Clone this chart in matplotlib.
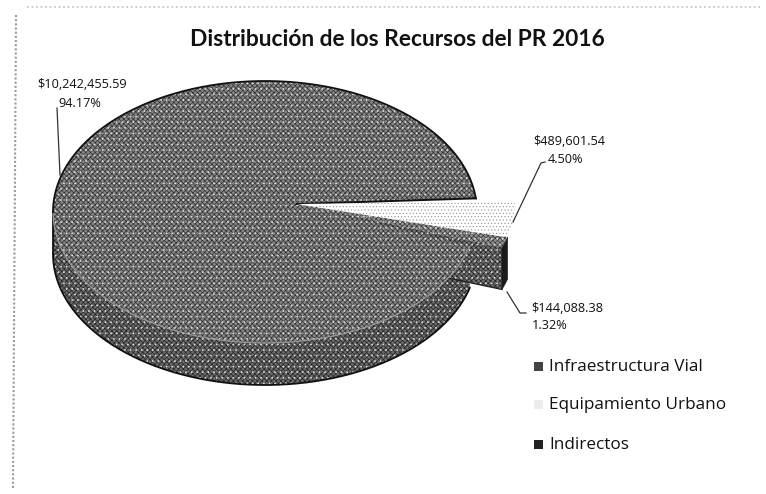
import numpy as np
import matplotlib
matplotlib.use('Agg')
import matplotlib.pyplot as plt
from matplotlib.patches import Polygon, Rectangle

# Datos
categorias = ['Infraestructura Vial', 'Equipamiento Urbano', 'Indirectos']
montos = [10242455.59, 489601.54, 144088.38]
titulo = 'Distribución de los Recursos del PR 2016'

total = sum(montos)
barrido = [m / total * 360 for m in montos]

plt.rcParams['font.family'] = 'Open Sans'
plt.rcParams['hatch.linewidth'] = 0.45

fig = plt.figure(figsize=(7.66, 4.94), dpi=100)
ax = fig.add_axes([0, 0, 1, 1])
ax.set_xlim(0, 766)
ax.set_ylim(494, 0)
ax.axis('off')

# Geometria del pastel en 3D (pixeles de la imagen)
centro = (265, 212)
vertice = (297, 204)
rx, ry = 212, 131
rx2, ry2 = 218, 127
prof = 42
inicio_main = 15
inicio_equip = -1


def arco(c, a, b, t0, t1):
    t = np.radians(np.linspace(t0, t1, 200))
    return np.column_stack([c[0] + a * np.cos(t), c[1] + b * np.sin(t)])


def cara_lateral(c, a, b, t0, t1, h):
    p = arco(c, a, b, t0, t1)
    return np.vstack([p, p[::-1] + [0, h]])


def relleno(puntos, cara, trama, z):
    # gris con trama oscura y puntos claros, como el medio tono del escaneo
    ax.add_patch(Polygon(puntos, closed=True, facecolor=cara, edgecolor=trama,
                         hatch='xxxxxxx', lw=0, zorder=z))
    ax.add_patch(Polygon(puntos, closed=True, fill=False, edgecolor='#e6e6e6',
                         hatch='...', lw=0, zorder=z))


# angulos a partir de los montos
t_main = inicio_main + barrido[0]
t_equip = inicio_equip + barrido[1]
t_indir = t_equip + barrido[2]

# lateral de Infraestructura
relleno(cara_lateral(centro, rx, ry, inicio_main, 180, prof), '#6a6a6a', '#222222', 1)
borde = arco(centro, rx, ry, inicio_main, 180) + [0, prof]
ax.plot(borde[:, 0], borde[:, 1], color='#111111', lw=1.3, zorder=1)
ax.plot([centro[0] - rx] * 2, [centro[1], centro[1] + prof], color='#111111', lw=1.3, zorder=1)

# Indirectos: cara de corte y cara exterior
p_ini = arco(vertice, rx2, ry2, t_equip, t_indir)
cara = np.array([vertice, p_ini[-1], p_ini[-1] + [0, prof], [vertice[0], vertice[1] + prof]])
relleno(cara, '#6f6f6f', '#222222', 2)
ax.plot([vertice[0], p_ini[-1][0]], [vertice[1] + prof, p_ini[-1][1] + prof], color='#222222', lw=1, zorder=2)
ext = cara_lateral(vertice, rx2, ry2, t_equip, t_indir, prof)
ax.add_patch(Polygon(ext, closed=True, facecolor='#1c1c1c', edgecolor='#111111', lw=0.5, zorder=2))

# Cara superior de Infraestructura
sup = np.vstack([[vertice], arco(centro, rx, ry, inicio_main, t_main)])
relleno(sup, '#858585', '#2e2e2e', 3)
# contorno: negro arriba, casi nada en el borde frontal
frente = arco(centro, rx, ry, inicio_main, 180)
ax.plot(frente[:, 0], frente[:, 1], color='#9a9a9a', lw=0.8, zorder=3)
atras = arco(centro, rx, ry, 180, t_main)
ax.plot(atras[:, 0], atras[:, 1], color='#111111', lw=1.3, zorder=3)
ax.plot([vertice[0], atras[-1][0]], [vertice[1], atras[-1][1]], color='#111111', lw=1.4, zorder=3)

# Cara superior de Indirectos y de Equipamiento
relleno(np.vstack([[vertice], p_ini]), '#8f8f8f', '#333333', 4)
sup_e = np.vstack([[vertice], arco(vertice, rx2, ry2, inicio_equip, t_equip)])
ax.add_patch(Polygon(sup_e, closed=True, facecolor='white', edgecolor='#9a9a9a',
                     hatch='.....', lw=0, zorder=5))

# Lineas guia
guias = [([57, 60], [108, 175]), ([545, 541, 513], [162, 163, 222]), ([507, 520, 526], [292, 313, 313])]
for gx, gy in guias:
    ax.plot(gx, gy, color='#333333', lw=0.9, zorder=6)

# Etiquetas de datos
pos_monto = [(82, 85), (569, 141), (567, 308)]
pos_pct = [(80, 103), (566, 159), (550, 325)]
for m, pm, pp in zip(montos, pos_monto, pos_pct):
    ax.text(pm[0], pm[1], f'${m:,.2f}', fontsize=9.2, color='#111111', ha='center', va='center', zorder=7)
    ax.text(pp[0], pp[1], f'{m / total * 100:.2f}%', fontsize=9.2, color='#111111', ha='center', va='center', zorder=7)

# Titulo
ax.text(397, 40, titulo, fontsize=16.4, fontweight='bold', family='Lato', color='#111111', ha='center', va='center')

# Leyenda
ley_y = [367, 405, 445]
ley_col = ['#444444', '#ececec', '#222222']
for nombre, y, col in zip(categorias, ley_y, ley_col):
    ax.add_patch(Rectangle((534, y - 5), 9, 9, facecolor=col, edgecolor='none'))
    ax.text(549, y, nombre, fontsize=12.3, color='#111111', ha='left', va='center')

# Bordes punteados del escaneo
ax.plot([27, 760], [7, 7], color='#c8c8c8', lw=1.3, ls=(0, (1, 1.5)))
ax.plot([16, 13], [15, 488], color='#9a9a9a', lw=1.5, ls=(0, (1, 1)))

fig.savefig('out.png', dpi=100)
